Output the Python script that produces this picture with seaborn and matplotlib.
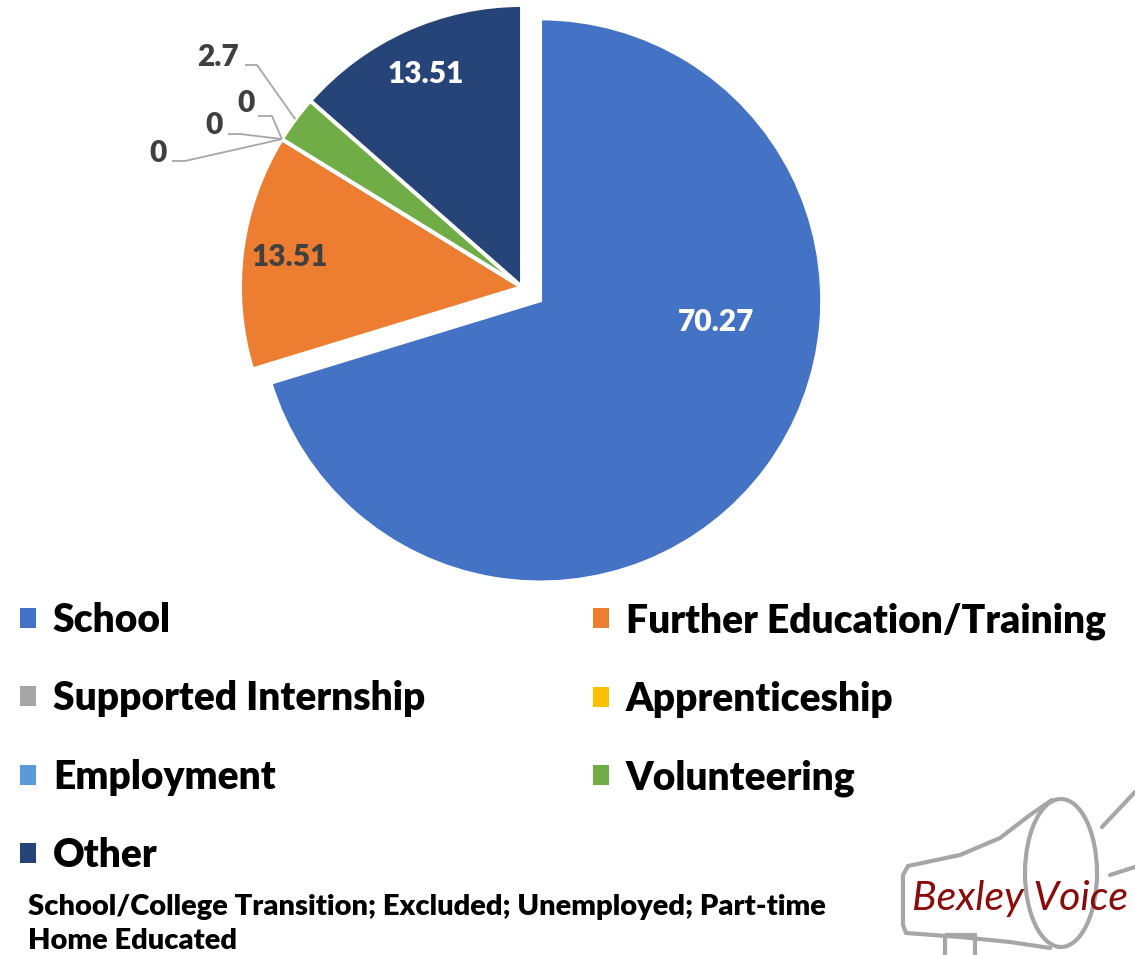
import numpy as np
import matplotlib
matplotlib.use('Agg')
import matplotlib.pyplot as plt
import seaborn as sns
from matplotlib.patches import Ellipse, Rectangle

# ---------------- data ----------------
categories = ['School', 'Further Education/Training', 'Supported Internship',
              'Apprenticeship', 'Employment', 'Volunteering', 'Other']
values = [70.27, 13.51, 0, 0, 0, 2.7, 13.51]
value_labels = ['70.27', '13.51', '0', '0', '0', '2.7', '13.51']
colors = ['#4472C4', '#ED7D31', '#A5A5A5', '#FFC000', '#5B9BD5', '#70AD47', '#264478']
note_lines = ['School/College Transition; Excluded; Unemployed; Part-time',
              'Home Educated']
logo_text = 'Bexley Voice'

# ---------------- setup ----------------
sns.set_theme(style='white')
plt.rcParams['font.family'] = ['Lato', 'DejaVu Sans']

W, H = 1135, 955
fig = plt.figure(figsize=(W / 100, H / 100), dpi=100)
fig.patch.set_facecolor('white')

CX, CY, R = 522, 287, 282   # pie centre / radius in pixels

ax = fig.add_axes([0, 0, 1, 1])
wedges, _ = ax.pie(values, colors=colors, startangle=90, counterclock=False,
                   explode=[0.08, 0, 0, 0, 0, 0, 0],
                   wedgeprops=dict(edgecolor='white', linewidth=2.8))
ax.set_xlim((0 - CX) / R, (W - CX) / R)
ax.set_ylim((CY - H) / R, CY / R)
ax.set_aspect('auto')
ax.axis('off')

# pixel overlay axes
pa = fig.add_axes([0, 0, 1, 1], facecolor='none')
pa.set_xlim(0, W)
pa.set_ylim(H, 0)
pa.axis('off')


def to_px(x, y):
    return CX + R * x, CY - R * y


def wedge_point(w, frac, ang=None):
    if ang is None:
        ang = 0.5 * (w.theta1 + w.theta2)
    cx, cy = w.center
    a = np.deg2rad(ang)
    return to_px(cx + frac * w.r * np.cos(a), cy + frac * w.r * np.sin(a))


lab_fs = 21.5
lab_w = 'heavy'
# inside labels
x, y = to_px(wedges[0].center[0] + 0.625, wedges[0].center[1] - 0.078)
pa.text(x, y, value_labels[0], color='white', fontsize=lab_fs, fontweight=lab_w,
        ha='center', va='center')
x, y = wedge_point(wedges[1], 0.83)
pa.text(x, y, value_labels[1], color='#404040', fontsize=lab_fs, fontweight=lab_w,
        ha='center', va='center')
x, y = wedge_point(wedges[6], 0.83)
pa.text(x, y, value_labels[6], color='white', fontsize=lab_fs, fontweight=lab_w,
        ha='center', va='center')

# outside labels with leader lines
outside = [  # index, text centre, leader start, elbow
    (5, (218, 57), (245, 65), (257, 65)),
    (4, (246, 103), (258, 116), (272, 116)),
    (3, (214, 125), (228, 134), (240, 134)),
    (2, (158, 153), (172, 161), (185, 161)),
]
for idx, tpos, start, elbow in outside:
    w = wedges[idx]
    anchor = wedge_point(w, 1.0)
    pa.plot([start[0], elbow[0], anchor[0]], [start[1], elbow[1], anchor[1]],
            color='#A6A6A6', lw=1.3, solid_capstyle='butt')
    pa.text(tpos[0], tpos[1], value_labels[idx], color='#404040', fontsize=lab_fs,
            fontweight=lab_w, ha='center', va='center')

# ---------------- legend (two columns) ----------------
leg_fs = 28.1
col1 = [0, 2, 4, 6]
col2 = [1, 3, 5]
common = dict(frameon=False, handlelength=0.41, handleheight=0.41,
              handletextpad=0.43, labelspacing=1.06, borderpad=0, borderaxespad=0,
              prop=dict(weight='heavy', size=leg_fs))
leg1 = pa.legend([wedges[i] for i in col1], [categories[i] for i in col1],
                 loc='upper left', bbox_to_anchor=(20 / W, 1 - 602 / H), **common)
pa.add_artist(leg1)
leg2 = pa.legend([wedges[i] for i in col2], [categories[i] for i in col2],
                 loc='upper left', bbox_to_anchor=(593 / W, 1 - 602 / H), **common)
for lg in (leg1, leg2):
    for h in lg.legend_handles:
        h.set_edgecolor('none')
        h.set_linewidth(0)
    for t in lg.get_texts():
        t.set_color('black')

# note text
pa.text(28, 907, note_lines[0], fontsize=21, fontweight='heavy', color='black',
        ha='left', va='center')
pa.text(28, 941, note_lines[1], fontsize=21, fontweight='heavy', color='black',
        ha='left', va='center')

# ---------------- logo (megaphone) ----------------
g = '#A6A6A6'
pa.plot([1052, 1030, 1000, 960, 908], [800, 815, 838, 855, 866], color=g, lw=3)
pa.plot([908, 903, 903, 906], [866, 875, 925, 933], color=g, lw=3)
pa.plot([906, 960, 1010, 1050], [933, 937, 942, 948], color=g, lw=3)
pa.add_patch(Ellipse((1061, 873), 72, 148, fill=False, edgecolor=g, lw=3))
pa.add_patch(Rectangle((945, 935), 30, 25, fill=False, edgecolor=g, lw=3))
pa.plot([1102, 1135], [827, 792], color=g, lw=3)
pa.plot([1110, 1135], [875, 867], color=g, lw=3)
pa.text(912, 898, logo_text, fontsize=29.5, fontstyle='italic', color='#8B0A0A',
        ha='left', va='center', clip_on=False)

fig.savefig('out.png', dpi=100, facecolor='white')
